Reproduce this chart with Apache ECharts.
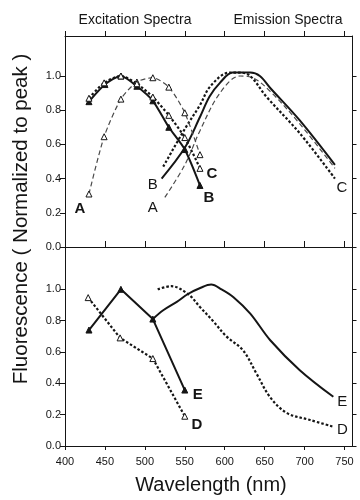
<!DOCTYPE html>
<html><head><meta charset="utf-8">
<script src="https://cdn.jsdelivr.net/npm/echarts@6/dist/echarts.min.js"></script>
<style>html,body{margin:0;padding:0;background:#fff}#c{width:360px;height:500px}</style>
</head><body><div id="c"></div>
<script>
// ---- data (wavelength nm, normalized fluorescence) ----
const xTicks = [400, 450, 500, 550, 600, 650, 700, 750];
const yTicks = [0, 0.2, 0.4, 0.6, 0.8, 1.0];

// top panel: excitation
const exA = [[430,0.31],[449,0.645],[470,0.865],[490,0.965],[510,0.99],[530,0.935],[550,0.785],[569,0.54]];
const exB = [[430,0.85],[450,0.95],[470,1.0],[490,0.94],[510,0.855],[530,0.70],[550,0.57],[569,0.36]];
const exC = [[430,0.87],[449,0.96],[470,1.0],[490,0.955],[510,0.877],[530,0.77],[550,0.64],[569,0.46]];
// top panel: emission
const emA = [[525,0.29],[550,0.48],[569,0.68],[594,0.90],[619,1.0],[635,0.99],[657,0.91],[694,0.72],[738,0.46]];
const emB = [[521,0.40],[550,0.58],[569,0.76],[581,0.88],[594,0.96],[610,1.02],[632,1.02],[644,1.0],[657,0.93],[694,0.74],[738,0.48]];
const emC = [[523,0.47],[550,0.69],[569,0.83],[582,0.94],[606,1.02],[619,1.02],[632,1.0],[652,0.88],[694,0.665],[738,0.40]];
// bottom panel
const exD = [[429,0.947],[469,0.69],[510,0.558],[550,0.19]];
const exE = [[430,0.74],[470,1.0],[510,0.81],[550,0.357]];
const emD = [[516,1.0],[533,1.02],[554,0.97],[569,0.887],[585,0.80],[602,0.70],[623,0.61],[640,0.46],[657,0.31],[678,0.21],[707,0.166],[736,0.123]];
const emE = [[510,0.81],[523,0.866],[540,0.92],[554,0.97],[570,1.01],[583,1.03],[596,1.0],[611,0.95],[632,0.845],[657,0.675],[694,0.484],[736,0.314]];

const FONT = 'Liberation Sans, Arial, Helvetica, sans-serif';
const INK = '#151515';

function items(arr, labels) {
  return arr.map((p, i) => {
    const o = { value: p };
    if (labels && labels[i]) {
      const L = labels[i];
      o.label = { show: true, formatter: L.t, position: 'inside', offset: [L.dx, L.dy],
        fontSize: 15, fontWeight: L.b ? 'bold' : 'normal', color: INK, fontFamily: FONT };
    }
    return o;
  });
}

function ex(name, arr, g, filled, line, labels, smooth) {
  return { name, type: 'line', xAxisIndex: g === 0 ? 0 : 2, yAxisIndex: g === 0 ? 0 : 2,
    data: items(arr, labels), smooth, symbol: 'triangle', symbolSize: 6, showSymbol: true,
    itemStyle: { color: filled ? INK : '#fff', borderColor: INK, borderWidth: 1 },
    lineStyle: line, label: { show: false }, z: 3 };
}
function em(name, arr, g, line, labels) {
  return { name, type: 'line', xAxisIndex: g === 0 ? 0 : 2, yAxisIndex: g === 0 ? 0 : 2,
    data: items(arr, labels), smooth: 0.35, symbol: 'circle', symbolSize: 0, showSymbol: true,
    itemStyle: { color: 'rgba(0,0,0,0)' }, lineStyle: line, label: { show: false }, z: 2 };
}

const dashedA = { color: '#4a4a4a', width: 1.2, type: [5, 3] };
const solid = { color: INK, width: 2 };
const dotted = { color: INK, width: 2.2, type: [2.5, 2] };

const tickFmt = v => Number(v).toFixed(1);

function yAx(g, pos, max, labels, len) {
  return { type: 'value', gridIndex: g, position: pos, min: 0, max,
    axisLine: { show: true, lineStyle: { color: INK, width: 1 } },
    axisTick: { show: true, customValues: yTicks, length: len, lineStyle: { color: INK } },
    axisLabel: { show: labels, customValues: yTicks, formatter: tickFmt, fontSize: 11, color: INK, fontFamily: FONT, margin: 4 },
    splitLine: { show: false } };
}
function xAx(g, pos, labels, inside, len) {
  return { type: 'value', gridIndex: g, position: pos, min: 400, max: 760,
    axisLine: { show: true, onZero: false, lineStyle: { color: INK, width: 1 } },
    axisTick: { show: true, customValues: xTicks, inside, length: len, lineStyle: { color: INK } },
    axisLabel: { show: labels, customValues: xTicks, fontSize: 11, color: INK, fontFamily: FONT, margin: 10 },
    splitLine: { show: false } };
}

const chart = echarts.init(document.getElementById('c'), null, { renderer: 'canvas' });
chart.setOption({
  animation: false,
  backgroundColor: '#fff',
  grid: [
    { left: 65, top: 36, right: 7.5, height: 211 },
    { left: 65, top: 247, right: 7.5, height: 199 }
  ],
  xAxis: [ xAx(0, 'bottom', false, true, 6), xAx(0, 'top', false, false, 5), xAx(1, 'bottom', true, false, 4) ],
  yAxis: [ yAx(0, 'left', 1.234, true, 5), yAx(0, 'right', 1.234, false, 4), yAx(1, 'left', 1.27, true, 5), yAx(1, 'right', 1.27, false, 4) ],
  series: [
    ex('A ex', exA, 0, false, dashedA, { 0: { t: 'A', dx: -9, dy: 15, b: true } }, 0.25),
    ex('B ex', exB, 0, true, solid, { 7: { t: 'B', dx: 9, dy: 12, b: true } }, 0.25),
    ex('C ex', exC, 0, false, dotted, { 7: { t: 'C', dx: 12, dy: 6, b: true } }, 0.25),
    em('A em', emA, 0, dashedA, { 0: { t: 'A', dx: -12, dy: 10 } }),
    em('B em', emB, 0, solid, { 0: { t: 'B', dx: -9, dy: 6 } }),
    em('C em', emC, 0, dotted, { 9: { t: 'C', dx: 7, dy: 9 } }),
    ex('D ex', exD, 1, false, dotted, { 3: { t: 'D', dx: 12, dy: 9, b: true } }, false),
    ex('E ex', exE, 1, true, solid, { 3: { t: 'E', dx: 13, dy: 5, b: true } }, false),
    em('D em', emD, 1, dotted, { 11: { t: 'D', dx: 9, dy: 3 } }),
    em('E em', emE, 1, solid, { 11: { t: 'E', dx: 9, dy: 5 } })
  ],
  graphic: [
    { type: 'text', x: 135, y: 20, style: { text: 'Excitation Spectra', fontSize: 14, fontFamily: FONT, fill: INK, textAlign: 'center', textVerticalAlign: 'middle' } },
    { type: 'text', x: 288, y: 20, style: { text: 'Emission Spectra', fontSize: 14, fontFamily: FONT, fill: INK, textAlign: 'center', textVerticalAlign: 'middle' } },
    { type: 'text', x: 211, y: 485, style: { text: 'Wavelength (nm)', fontSize: 20, fontFamily: FONT, fill: INK, textAlign: 'center', textVerticalAlign: 'middle' } },
    { type: 'text', x: 21, y: 219, rotation: Math.PI / 2, style: { text: 'Fluorescence ( Normalized to peak )', fontSize: 20.5, fontFamily: FONT, fill: INK, textAlign: 'center', textVerticalAlign: 'middle' } }
  ]
});
</script></body></html>
